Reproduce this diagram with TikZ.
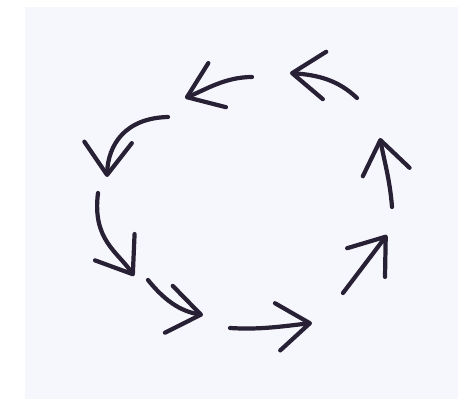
\documentclass[tikz,border=0pt]{standalone}
\usepackage{xcolor}
\usepackage{tikz}
\usetikzlibrary{arrows.meta}
\definecolor{inkpurple}{RGB}{40,32,52}
\definecolor{paperwhite}{RGB}{246,247,252}

\begin{document}
\begin{tikzpicture}[
  x=0.02cm, y=-0.02cm,
  sheet/.style={fill=paperwhite, draw=none},
  stroke/.style={draw=inkpurple, line width=2.4pt, line cap=round, -{Straight Barb[length=6.5mm, width=9.5mm, round]}}
]
\useasboundingbox (0,0) rectangle (458,399);
\fill[sheet] (25,7) rectangle (458,399);

% start and tip of each stroke, going round anticlockwise
\coordinate (s1) at (357,98);  \coordinate (t1) at (290,73);
\coordinate (s2) at (252,77);  \coordinate (t2) at (185,98);
\coordinate (s3) at (168,117); \coordinate (t3) at (107,177);
\coordinate (s4) at (98,193);  \coordinate (t4) at (134,276);
\coordinate (s5) at (148,280); \coordinate (t5) at (203,315);
\coordinate (s6) at (230,328); \coordinate (t6) at (312,323);
\coordinate (s7) at (343,293); \coordinate (t7) at (387,235);
\coordinate (s8) at (392,207); \coordinate (t8) at (380,138);

\draw[stroke] (s1) .. controls (338,80) and (318,75) .. (t1);
\draw[stroke] (s2) .. controls (225,77) and (205,90) .. (t2);
\draw[stroke] (s3) .. controls (125,118) and (108,145) .. (t3);
\draw[stroke] (s4) .. controls (92,240) and (118,252) .. (t4);
\draw[stroke] (s5) .. controls (168,305) and (185,312) .. (t5);
\draw[stroke] (s6) .. controls (260,330) and (285,326) .. (t6);
\draw[stroke] (s7) -- (t7);
\draw[stroke] (s8) .. controls (390,180) and (384,160) .. (t8);
\end{tikzpicture}
\end{document}
